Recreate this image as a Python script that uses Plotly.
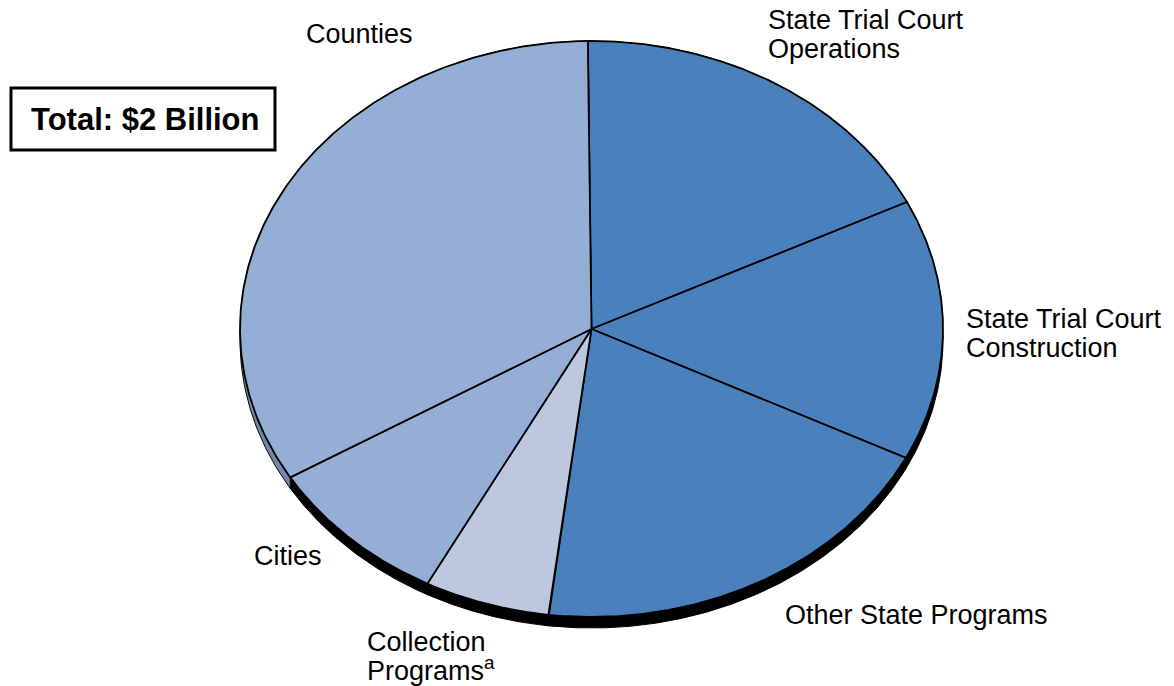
import numpy as np
import plotly.graph_objects as go

# Distribution of $2 billion, in millions of dollars (clockwise from top)
categories = [
    "State Trial Court<br>Operations",
    "State Trial Court<br>Construction",
    "Other State Programs",
    "Collection<br>Programs<sup>a</sup>",
    "Cities",
    "Counties",
]
values_musd = [358, 293, 391, 116, 173, 669]
total_label = "Total: $2 Billion"

# Styling
face_colors = ["#4a80bc", "#4a80bc", "#4a80bc", "#bdc8de", "#95aed5", "#95aed5"]
side_colors = ["#000000", "#000000", "#000000", "#000000", "#000000", "#7288aa"]
label_pos = [(766, 20), (964, 319), (783, 615), (365, 642), (252, 556), (304, 34)]
line_pitch = [29, 29, 29, 27, 29, 29]
W, H = 1174, 686
CX, CY, RX, RY = 591.5, 329.0, 351.5, 288.0
DEPTH = 11.0
START_DEG = -0.6
FONT = "Liberation Sans, Arial, sans-serif"

vals = np.array(values_musd, dtype=float)
bounds = START_DEG + np.concatenate([[0], np.cumsum(vals)]) / vals.sum() * 360.0


def arc(a0, a1, dy=0.0, n=240):
    t = np.radians(np.linspace(a0, a1, n))
    return CX + RX * np.sin(t), CY - RY * np.cos(t) + dy


fig = go.Figure()

# Side walls of the tilted pie
for i in range(len(vals)):
    x1, y1 = arc(bounds[i], bounds[i + 1])
    x2, y2 = arc(bounds[i + 1], bounds[i], DEPTH)
    fig.add_trace(go.Scatter(
        x=np.concatenate([x1, x2, x1[:1]]), y=np.concatenate([y1, y2, y1[:1]]),
        mode="lines", fill="toself", fillcolor=side_colors[i],
        line=dict(color="#000000", width=1), hoverinfo="skip", showlegend=False))

# Top faces of the slices
for i in range(len(vals)):
    xa, ya = arc(bounds[i], bounds[i + 1])
    fig.add_trace(go.Scatter(
        x=np.concatenate([[CX], xa, [CX]]), y=np.concatenate([[CY], ya, [CY]]),
        mode="lines", fill="toself", fillcolor=face_colors[i],
        line=dict(color="#000000", width=1.8),
        name=categories[i].replace("<br>", " "), hoverinfo="name", showlegend=False))

# Slice labels, one annotation per text line
for text, (lx, ly), pitch in zip(categories, label_pos, line_pitch):
    for k, line in enumerate(text.split("<br>")):
        fig.add_annotation(x=lx, y=ly + k * pitch, text=line, showarrow=False,
                           xanchor="left", yanchor="middle",
                           font=dict(family=FONT, size=27, color="#000000"))

# Total box
fig.add_shape(type="rect", x0=11, y0=88, x1=275, y1=150,
              line=dict(color="#000000", width=3), fillcolor="#ffffff")
fig.add_annotation(x=145, y=119, text="<b>" + total_label + "</b>", showarrow=False,
                   xanchor="center", yanchor="middle",
                   font=dict(family=FONT, size=31, color="#000000"))

fig.update_layout(
    width=W, height=H, margin=dict(l=0, r=0, t=0, b=0),
    paper_bgcolor="#ffffff", plot_bgcolor="#ffffff",
    xaxis=dict(range=[0, W], visible=False, fixedrange=True),
    yaxis=dict(range=[H, 0], visible=False, fixedrange=True),
)

fig.write_html("out.html")
